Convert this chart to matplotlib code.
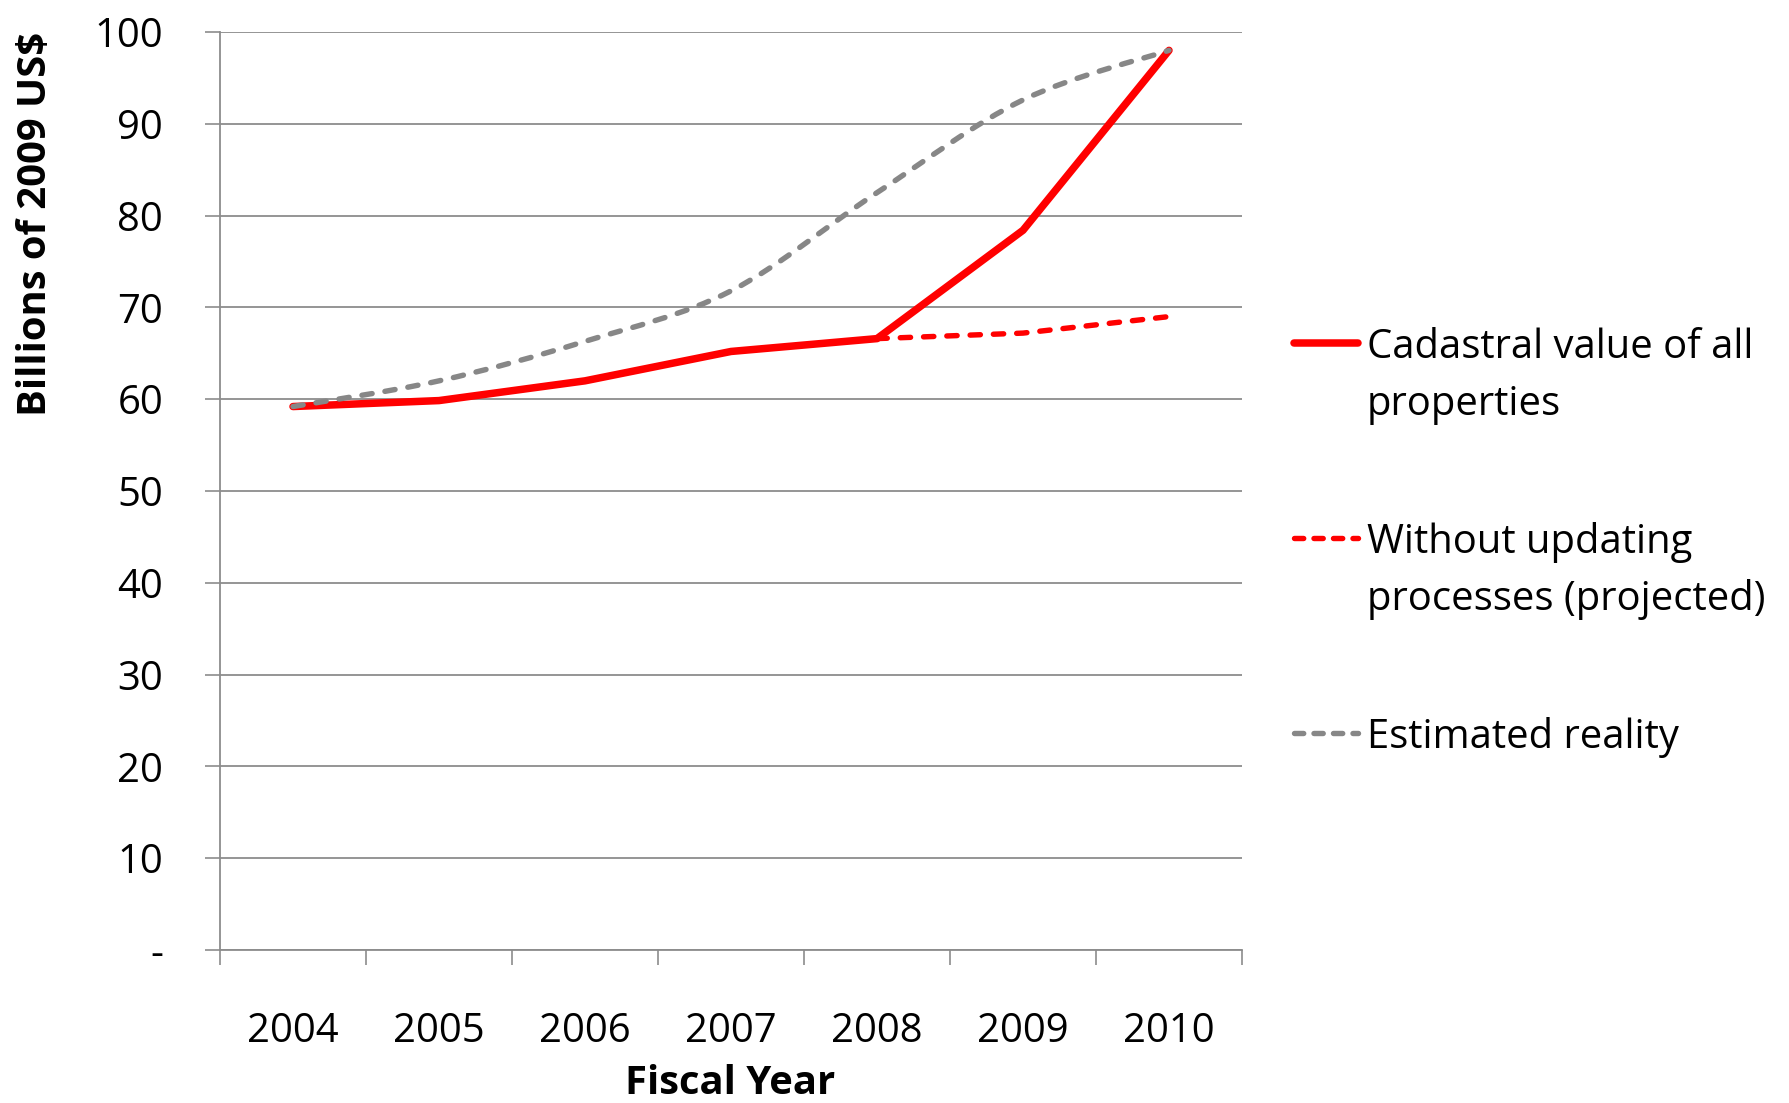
import matplotlib
matplotlib.use("Agg")
import matplotlib.pyplot as plt
from matplotlib.path import Path
from matplotlib.patches import PathPatch
from matplotlib.lines import Line2D
import numpy as np

plt.rcParams['font.family'] = ['Open Sans', 'DejaVu Sans']

years = ["2004", "2005", "2006", "2007", "2008", "2009", "2010"]
cadastral = [59.2, 59.85, 62.0, 65.2, 66.6, 78.4, 98.0]
without_updating = [None, None, None, None, 66.6, 67.2, 69.0]
estimated_reality = [59.2, 62.0, 66.3, 71.8, 82.5, 92.6, 98.0]
y_ticks = [0, 10, 20, 30, 40, 50, 60, 70, 80, 90, 100]
y_tick_labels = ["-"] + [str(v) for v in y_ticks[1:]]

legend_labels = [["Cadastral value of all", "properties"],
                 ["Without updating", "processes (projected)"],
                 ["Estimated reality"]]

RED = "#FF0000"
GRAY = "#878787"
GRID = "#8C8C8C"
FS = 28.8
DASH = (1.9, 2.4)  # in units of line width

W, H = 1789, 1103
fig = plt.figure(figsize=(W / 100, H / 100), dpi=100)
ax = fig.add_axes([220 / W, 1 - 950 / H, (1242 - 220) / W, (950 - 32) / H])

x = np.arange(len(years))

# solid cadastral series
ax.plot(x, cadastral, color=RED, lw=5.4, solid_joinstyle="round",
        solid_capstyle="round", zorder=3)

# projected series (only defined from 2008 on)
xp = [xi for xi, v in zip(x, without_updating) if v is not None]
yp = [v for v in without_updating if v is not None]
ax.plot(xp, yp, color=RED, lw=3.9, dashes=DASH, dash_capstyle="round",
        zorder=4)

# smoothed estimate drawn as a cubic Bezier path
pts = np.column_stack([x, estimated_reality]).astype(float)
ext = np.vstack([pts[0], pts, pts[-1]])
verts = [tuple(pts[0])]
codes = [Path.MOVETO]
for i in range(len(pts) - 1):
    p0, p1, p2, p3 = ext[i], ext[i + 1], ext[i + 2], ext[i + 3]
    c1 = p1 + (p2 - p0) / 6.0
    c2 = p2 - (p3 - p1) / 6.0
    verts += [tuple(c1), tuple(c2), tuple(p2)]
    codes += [Path.CURVE4] * 3
patch = PathPatch(Path(verts, codes), fill=False, edgecolor=GRAY, lw=3.9,
                  linestyle=(0, DASH), capstyle="round", zorder=5)
ax.add_patch(patch)

ax.set_xlim(-0.5, len(years) - 0.5)
ax.set_ylim(0, 100)

# category boundaries carry the tick marks, centres carry the labels
ax.set_xticks(np.arange(-0.5, len(years)), minor=False)
ax.set_xticklabels([])
ax.set_xticks(x, minor=True)
ax.set_xticklabels(years, minor=True, fontsize=FS)
ax.tick_params(axis="x", which="major", direction="out", length=11,
               width=1.2, color=GRID)
ax.tick_params(axis="x", which="minor", length=0, pad=44)

ax.set_yticks(y_ticks)
ax.set_yticklabels(y_tick_labels, fontsize=FS)
ax.tick_params(axis="y", direction="out", length=11, width=1.2, color=GRID,
               pad=30)

ax.yaxis.grid(True, color=GRID, lw=1.3)
ax.set_axisbelow(True)
for s in ("top", "right"):
    ax.spines[s].set_visible(False)
for s in ("left", "bottom"):
    ax.spines[s].set_color(GRID)
    ax.spines[s].set_linewidth(1.3)

fig.text(730 / W, 1 - 1083 / H, "Fiscal Year", fontsize=FS,
         fontweight="bold", ha="center", va="center")
fig.text(36 / W, 1 - 224 / H, r"Billions of 2009 US\$", fontsize=FS,
         fontweight="bold", rotation=90, ha="center", va="center")

# legend entries
entries = [
    (343, dict(color=RED, lw=5.4, solid_capstyle="round")),
    (538, dict(color=RED, lw=3.9, dashes=(1.7, 1.9), dash_capstyle="round")),
    (733, dict(color=GRAY, lw=3.9, dashes=(1.7, 1.9), dash_capstyle="round")),
]
LINE_STEP = 57
for (yy, style), lines in zip(entries, legend_labels):
    fig.add_artist(Line2D([1294 / W, 1358 / W], [1 - yy / H, 1 - yy / H],
                          transform=fig.transFigure, **style))
    for k, line in enumerate(lines):
        fig.text(1367 / W, 1 - (yy + 5 + k * LINE_STEP) / H, line,
                 fontsize=FS, ha="left", va="center")

fig.savefig("out.png", dpi=100)
